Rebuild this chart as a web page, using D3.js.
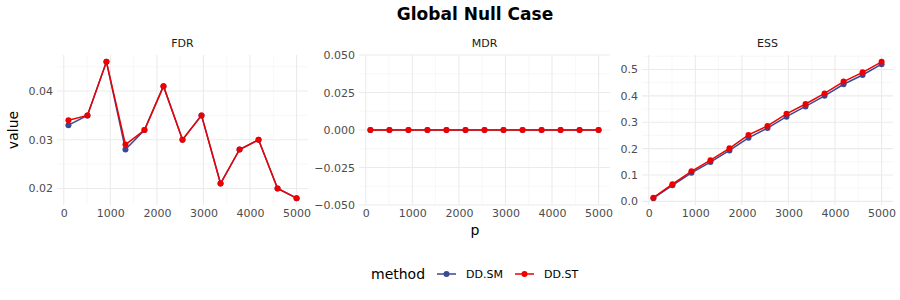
<!DOCTYPE html>
<html>
<head>
<meta charset="UTF-8">
<title>Global Null Case</title>
<script src="https://cdn.jsdelivr.net/npm/d3@7"></script>
<style>
body { margin: 0; background: #fff; font-family: "DejaVu Sans", sans-serif; }
</style>
</head>
<body>
<script>
// data
var pValues = [100, 508.3, 916.7, 1325, 1733.3, 2141.7, 2550, 2958.3, 3366.7, 3775, 4183.3, 4591.7, 5000];
var methods = ["DD.SM", "DD.ST"];
var colors = ["#3B4992", "#EE0000"];
var panelNames = ["FDR", "MDR", "ESS"];

var fdrSM = [0.033, 0.035, 0.046, 0.028, 0.032, 0.041, 0.030, 0.035, 0.021, 0.028, 0.030, 0.020, 0.018];
var fdrST = [0.034, 0.035, 0.046, 0.029, 0.032, 0.041, 0.030, 0.035, 0.021, 0.028, 0.030, 0.020, 0.018];
var mdrSM = [0, 0, 0, 0, 0, 0, 0, 0, 0, 0, 0, 0, 0];
var mdrST = [0, 0, 0, 0, 0, 0, 0, 0, 0, 0, 0, 0, 0];
var essSM = [0.012, 0.061, 0.108, 0.149, 0.193, 0.241, 0.278, 0.321, 0.360, 0.400, 0.444, 0.479, 0.520];
var essST = [0.014, 0.065, 0.114, 0.156, 0.201, 0.252, 0.286, 0.332, 0.369, 0.409, 0.454, 0.489, 0.529];

var xTicks = [0, 1000, 2000, 3000, 4000, 5000];
var fdrTicks = [0.02, 0.03, 0.04];
var mdrTicks = [-0.05, -0.025, 0, 0.025, 0.05];
var essTicks = [0, 0.1, 0.2, 0.3, 0.4, 0.5];

var panels = [
  { name: panelNames[0], series: [fdrSM, fdrST], ticks: fdrTicks, fmt: d3.format(".2f") },
  { name: panelNames[1], series: [mdrSM, mdrST], ticks: mdrTicks, fmt: d3.format(".3f") },
  { name: panelNames[2], series: [essSM, essST], ticks: essTicks, fmt: d3.format(".1f") }
];

// layout
var W = 900, H = 300;
var panelX = [57, 359, 642];
var panelW = 251;
var plotTop = 55, plotBottom = 205;

var svg = d3.select("body").append("svg")
  .attr("width", W).attr("height", H);

// title
svg.append("text")
  .attr("x", 475).attr("y", 20)
  .attr("text-anchor", "middle")
  .attr("font-size", 17).attr("font-weight", "bold")
  .attr("fill", "#000")
  .text("Global Null Case");

// ggplot style expansion
function expand(ext) {
  if (ext[0] === ext[1]) return [ext[0] - 0.05, ext[1] + 0.05];
  var pad = (ext[1] - ext[0]) * 0.05;
  return [ext[0] - pad, ext[1] + pad];
}

var xDomain = expand(d3.extent(pValues));

panels.forEach(function (pn, i) {
  var g = svg.append("g").attr("transform", "translate(" + panelX[i] + ",0)");
  var x = d3.scaleLinear().domain(xDomain).range([0, panelW]);
  var all = pn.series[0].concat(pn.series[1]);
  var yDomain = expand(d3.extent(all));
  var y = d3.scaleLinear().domain(yDomain).range([plotBottom, plotTop]);

  // minor grid
  var xStep = xTicks[1] - xTicks[0];
  var xMinor = xTicks.map(function (t) { return t - xStep / 2; }).concat([xTicks[xTicks.length - 1] + xStep / 2])
    .filter(function (t) { return t >= xDomain[0] && t <= xDomain[1]; });
  var yStep = pn.ticks[1] - pn.ticks[0];
  var yMinor = pn.ticks.map(function (t) { return t - yStep / 2; }).concat([pn.ticks[pn.ticks.length - 1] + yStep / 2])
    .filter(function (t) { return t >= yDomain[0] - 1e-9 && t <= yDomain[1] + 1e-9; });

  g.selectAll(".xminor").data(xMinor).enter().append("line")
    .attr("x1", x).attr("x2", x).attr("y1", plotTop).attr("y2", plotBottom)
    .attr("stroke", "#f2f2f2").attr("stroke-width", 0.6);
  g.selectAll(".yminor").data(yMinor).enter().append("line")
    .attr("x1", 0).attr("x2", panelW).attr("y1", y).attr("y2", y)
    .attr("stroke", "#f2f2f2").attr("stroke-width", 0.6);
  g.selectAll(".xmajor").data(xTicks).enter().append("line")
    .attr("x1", x).attr("x2", x).attr("y1", plotTop).attr("y2", plotBottom)
    .attr("stroke", "#ebebeb").attr("stroke-width", 1.1);
  g.selectAll(".ymajor").data(pn.ticks).enter().append("line")
    .attr("x1", 0).attr("x2", panelW).attr("y1", y).attr("y2", y)
    .attr("stroke", "#ebebeb").attr("stroke-width", 1.1);

  // axes (labels only)
  var xa = g.append("g").attr("transform", "translate(0," + plotBottom + ")")
    .call(d3.axisBottom(x).tickValues(xTicks).tickFormat(d3.format("d")).tickSize(0).tickPadding(4));
  var ya = g.append("g")
    .call(d3.axisLeft(y).tickValues(pn.ticks).tickFormat(pn.fmt).tickSize(0).tickPadding(4));
  [xa, ya].forEach(function (a) {
    a.select(".domain").remove();
    a.selectAll("text").attr("fill", "#4d4d4d").attr("font-size", 11)
      .attr("font-family", "DejaVu Sans, sans-serif");
  });

  // strip
  g.append("text")
    .attr("x", panelW / 2).attr("y", 47)
    .attr("text-anchor", "middle")
    .attr("font-size", 11).attr("fill", "#1a1a1a")
    .text(pn.name);

  // lines & points
  var line = d3.line()
    .x(function (d, j) { return x(pValues[j]); })
    .y(function (d) { return y(d); });
  pn.series.forEach(function (s, k) {
    g.append("path").datum(s)
      .attr("d", line)
      .attr("fill", "none")
      .attr("stroke", colors[k]).attr("stroke-width", 1.5);
    g.selectAll(".pt" + k).data(s).enter().append("circle")
      .attr("cx", function (d, j) { return x(pValues[j]); })
      .attr("cy", y)
      .attr("r", 3)
      .attr("fill", colors[k]);
  });
});

// axis titles
svg.append("text")
  .attr("x", 475).attr("y", 235)
  .attr("text-anchor", "middle")
  .attr("font-size", 14).attr("fill", "#000")
  .text("p");
svg.append("text")
  .attr("transform", "translate(18,130) rotate(-90)")
  .attr("text-anchor", "middle")
  .attr("font-size", 14).attr("fill", "#000")
  .text("value");

// legend
var leg = svg.append("g");
leg.append("text")
  .attr("x", 371).attr("y", 279)
  .attr("font-size", 14).attr("fill", "#000")
  .text("method");
var legX = [437, 515];
methods.forEach(function (m, k) {
  leg.append("line")
    .attr("x1", legX[k]).attr("x2", legX[k] + 19)
    .attr("y1", 274).attr("y2", 274)
    .attr("stroke", colors[k]).attr("stroke-width", 1.5);
  leg.append("circle")
    .attr("cx", legX[k] + 9.5).attr("cy", 274).attr("r", 3)
    .attr("fill", colors[k]);
  leg.append("text")
    .attr("x", legX[k] + 29).attr("y", 278)
    .attr("font-size", 11).attr("fill", "#000")
    .text(m);
});
</script>
</body>
</html>
